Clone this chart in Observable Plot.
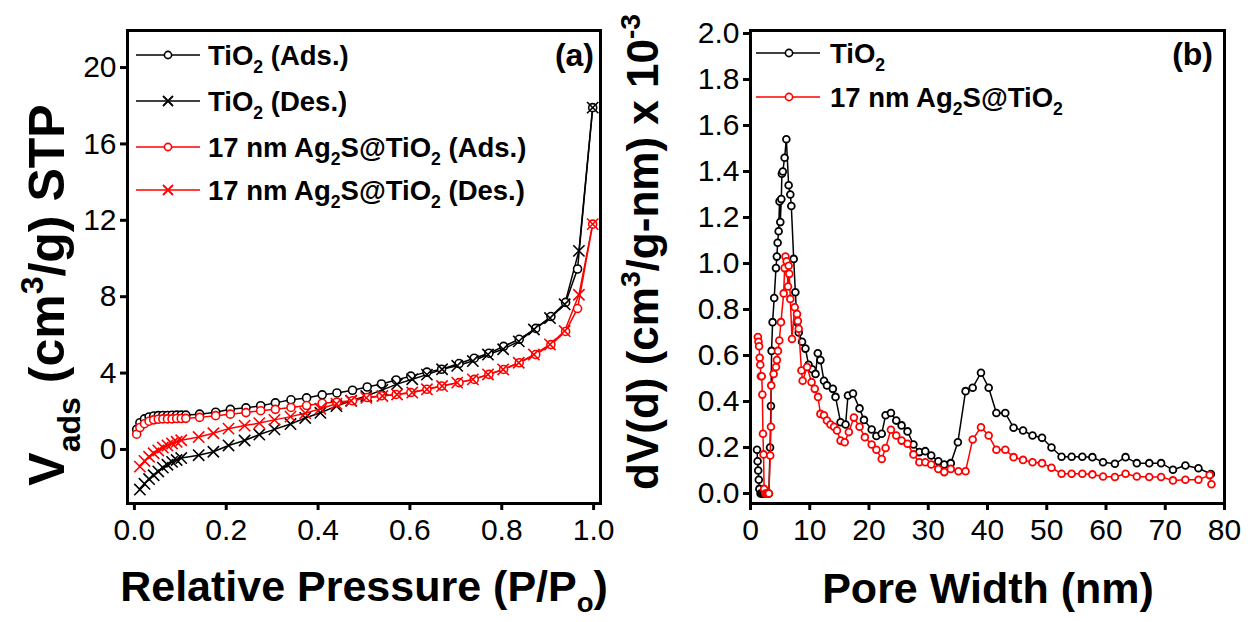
<!DOCTYPE html>
<html><head><meta charset="utf-8">
<script src="https://cdn.jsdelivr.net/npm/d3@7"></script>
<script src="https://cdn.jsdelivr.net/npm/@observablehq/plot@0.6"></script>
<style>
html,body{margin:0;padding:0;background:#fff;}
#wrap{position:relative;width:1248px;height:622px;overflow:hidden;background:#fff;}
#a{position:absolute;left:0;top:0;width:624px;height:622px;}
#b{position:absolute;left:624px;top:0;width:624px;height:622px;}
</style></head><body><div id="wrap"><div id="a"></div><div id="b"></div></div>
<script>
// ---------- Panel (a): N2 isotherms ----------
const xTicksA = [0, 0.2, 0.4, 0.6, 0.8, 1.0];
const yTicksA = [0, 4, 8, 12, 16, 20];
const p_ads = [0.005,0.012,0.022,0.032,0.042,0.052,0.062,0.072,0.082,0.092,0.102,0.112,0.142,0.177,0.209,0.243,0.275,0.307,0.341,0.375,0.409,0.441,0.475,0.507,0.538,0.570,0.602,0.637,0.669,0.707,0.740,0.772,0.804,0.838,0.874,0.907,0.939,0.965,0.998];
const tio2_ads = [1.05,1.4,1.6,1.7,1.75,1.77,1.78,1.78,1.79,1.8,1.8,1.8,1.85,1.95,2.1,2.18,2.29,2.44,2.6,2.7,2.86,2.96,3.1,3.27,3.43,3.64,3.84,4.05,4.2,4.5,4.78,5.04,5.4,5.77,6.34,6.96,7.7,9.45,17.9];
const ag_ads = [0.8,1.15,1.35,1.48,1.55,1.58,1.6,1.6,1.6,1.62,1.62,1.63,1.68,1.77,1.85,1.93,2.03,2.1,2.2,2.3,2.42,2.48,2.55,2.72,2.81,2.88,2.98,3.15,3.32,3.5,3.67,3.93,4.19,4.54,4.97,5.49,6.18,7.38,11.8];
const p_des = [0.012,0.022,0.032,0.042,0.052,0.062,0.072,0.082,0.092,0.102,0.14,0.172,0.205,0.24,0.272,0.305,0.34,0.372,0.405,0.44,0.472,0.505,0.54,0.572,0.605,0.637,0.67,0.703,0.737,0.77,0.803,0.837,0.87,0.905,0.937,0.968,0.998];
const tio2_des = [-2.1,-1.8,-1.55,-1.35,-1.15,-0.95,-0.8,-0.65,-0.55,-0.45,-0.3,-0.12,0.21,0.47,0.78,1.05,1.33,1.65,1.92,2.27,2.55,2.8,3.12,3.42,3.68,3.92,4.2,4.38,4.63,4.97,5.25,5.66,6.28,6.88,7.6,10.4,17.9];
const ag_des = [-0.9,-0.6,-0.38,-0.2,-0.05,0.1,0.21,0.31,0.4,0.48,0.65,0.85,1.09,1.25,1.38,1.55,1.72,1.9,2.13,2.39,2.55,2.7,2.8,2.88,2.98,3.15,3.32,3.5,3.67,3.93,4.19,4.54,4.97,5.5,6.2,8.1,11.8];

// ---------- Panel (b): pore size distribution ----------
const xTicksB = [0,10,20,30,40,50,60,70,80];
const yTicksB = [0,0.2,0.4,0.6,0.8,1.0,1.2,1.4,1.6,1.8,2.0];
const w_t = [1.1,1.2,1.3,1.4,1.5,1.7,1.9,2.1,2.3,2.5,2.7,2.9,3.1,3.3,3.45,3.56,3.73,4.0,4.3,4.45,4.58,4.75,4.9,5.03,5.2,5.3,5.45,5.76,6.05,6.44,6.72,6.89,7.29,7.57,7.85,8.14,8.7,9.27,9.8,10.4,10.97,11.36,11.8,12.4,12.9,13.9,14.35,15.2,16.05,16.45,17.3,18.4,19.15,20.45,21.25,22.15,22.8,23.7,24.6,25.5,26.5,27.5,28.5,29.5,30.5,31.7,32.7,33.8,35,36.3,37.5,38.9,40.2,41.5,43,44.4,46,47.6,49.2,50.8,52.5,54.2,56,57.7,59.5,61.5,63.3,65.2,67.3,69.3,71.3,73.4,75.6,77.7];
const v_t = [0.19,0.14,0.1,0.06,0.02,0,0,0,0,0,0,0,0,0.2,0.38,0.62,0.745,0.85,0.98,1.03,1.09,1.14,1.27,1.18,1.28,1.39,1.40,1.46,1.54,1.34,1.30,1.25,1.02,0.875,0.745,0.70,0.66,0.63,0.56,0.54,0.52,0.61,0.58,0.49,0.47,0.455,0.42,0.31,0.30,0.426,0.435,0.37,0.32,0.278,0.25,0.26,0.34,0.35,0.317,0.296,0.27,0.213,0.18,0.184,0.165,0.14,0.126,0.132,0.223,0.445,0.46,0.525,0.46,0.35,0.35,0.286,0.274,0.252,0.242,0.2,0.16,0.16,0.16,0.158,0.136,0.129,0.158,0.132,0.132,0.132,0.103,0.122,0.11,0.085];
const w_r = [1.25,1.35,1.45,1.55,1.65,1.75,1.9,2.0,2.1,2.2,2.3,2.5,2.7,2.9,3.1,3.33,3.45,3.5,3.9,4.3,4.46,4.63,4.86,5.14,5.6,5.76,5.9,6.1,6.33,6.44,6.55,6.72,7.0,7.46,7.85,8.0,8.14,8.6,8.8,9.55,10.3,10.85,11.4,11.8,12.4,12.9,13.5,14.1,14.6,15.2,15.9,16.6,17.45,18.4,19.3,20.45,21.25,22.15,22.8,23.7,24.6,25.5,26.5,27.5,28.5,29.5,30.5,31.7,32.7,33.8,35.1,36.3,37.5,38.9,40.2,41.5,43,44.4,46,47.6,49.2,50.8,52.5,54.2,56,57.7,59.5,61.5,63.3,65.2,67.3,69.3,71.3,73.4,75.6,77.5,77.8];
const v_r = [0.68,0.66,0.64,0.59,0.56,0.51,0.51,0.43,0.26,0.17,0.02,0,0,0,0,0.165,0.29,0.47,0.52,0.55,0.58,0.62,0.665,0.745,0.87,0.98,1.03,1.01,0.9,0.99,0.955,0.846,0.672,0.81,0.78,0.75,0.716,0.535,0.49,0.55,0.484,0.455,0.42,0.346,0.34,0.317,0.30,0.29,0.274,0.23,0.223,0.267,0.33,0.29,0.245,0.213,0.19,0.15,0.198,0.277,0.252,0.23,0.216,0.17,0.136,0.136,0.126,0.107,0.093,0.107,0.097,0.097,0.235,0.288,0.252,0.19,0.19,0.158,0.146,0.136,0.132,0.112,0.086,0.086,0.086,0.083,0.074,0.072,0.086,0.074,0.072,0.072,0.057,0.06,0.06,0.08,0.04];

const BLACK = "#000000", RED = "#ff0000";
const FONT = "'Liberation Sans', Arial, Helvetica, sans-serif";

const toRows = (xs, ys, series) => xs.map((x, i) => ({x, y: ys[i], series}));
const aTiAds = toRows(p_ads, tio2_ads, "TiO2 (Ads.)");
const aTiDes = toRows(p_des, tio2_des, "TiO2 (Des.)");
const aAgAds = toRows(p_ads, ag_ads, "Ag2S (Ads.)");
const aAgDes = toRows(p_des, ag_des, "Ag2S (Des.)");
const bTi = toRows(w_t, v_t, "TiO2");
const bAg = toRows(w_r, v_r, "Ag2S");

function rich(textSel, parts, size, subOff = 0.32) {
  let cur = 0;
  parts.forEach(([t, mode]) => {
    const off = mode === "sub" ? subOff * size : mode === "sup" ? -0.42 * size : 0;
    textSel.append("tspan")
      .attr("dy", off - cur)
      .attr("font-size", mode ? 0.64 * size : size)
      .text(t);
    cur = off;
  });
}

function legend(svg, rows, x1, x2, xs, xt, fs) {
  const g = d3.select(svg).append("g");
  rows.forEach(r => {
    g.append("line").attr("x1", x1).attr("x2", x2).attr("y1", r.y).attr("y2", r.y)
      .attr("stroke", r.color).attr("stroke-width", 1.6);
    if (r.sym === "circle") {
      g.append("circle").attr("cx", xs).attr("cy", r.y).attr("r", 3.6)
        .attr("fill", "white").attr("stroke", r.color).attr("stroke-width", 1.6);
    } else {
      const s = 5;
      g.append("path").attr("d", `M${xs - s},${r.y - s}L${xs + s},${r.y + s}M${xs - s},${r.y + s}L${xs + s},${r.y - s}`)
        .attr("stroke", r.color).attr("stroke-width", 1.8);
    }
    const t = g.append("text").attr("x", xt).attr("y", r.y + 9.5)
      .attr("text-anchor", "start")
      .attr("font-family", FONT).attr("font-weight", "bold").attr("fill", "black");
    rich(t, r.parts, fs);
  });
}

function title(svg, x, y, rot, parts, size, anchor = "middle", subOff = 0.32) {
  const t = d3.select(svg).append("text")
    .attr("transform", `translate(${x},${y}) rotate(${rot})`)
    .attr("text-anchor", anchor)
    .attr("font-family", FONT).attr("font-weight", "bold").attr("fill", "black");
  rich(t, parts, size, subOff);
}

const baseStyle = {fontFamily: FONT, color: "black", background: "white", overflow: "visible"};

// ---------- Chart (a) ----------
const chartA = Plot.plot({
  width: 624, height: 622,
  marginLeft: 127, marginRight: 24, marginTop: 30, marginBottom: 119,
  style: baseStyle,
  x: {domain: [-0.015, 1.015]},
  y: {domain: [-2.83, 21.94]},
  marks: [
    Plot.axisX({ticks: xTicksA, tickFormat: d3.format(".1f"), tickSize: 7, strokeWidth: 3, fontSize: 30, tickPadding: 8, label: null}),
    Plot.axisY({ticks: yTicksA, tickFormat: d3.format("d"), tickSize: 7, strokeWidth: 3, fontSize: 30, tickPadding: 4, label: null}),
    Plot.line(aTiAds, {x: "x", y: "y", stroke: BLACK, strokeWidth: 1.5}),
    Plot.line(aTiDes, {x: "x", y: "y", stroke: BLACK, strokeWidth: 1.5}),
    Plot.dot(aTiAds, {x: "x", y: "y", r: 4, stroke: BLACK, strokeWidth: 1.6, fill: "white"}),
    Plot.dot(aTiDes, {x: "x", y: "y", r: 5.2, symbol: "times", stroke: BLACK, strokeWidth: 1.6}),
    Plot.line(aAgAds, {x: "x", y: "y", stroke: RED, strokeWidth: 1.5}),
    Plot.line(aAgDes, {x: "x", y: "y", stroke: RED, strokeWidth: 1.5}),
    Plot.dot(aAgAds, {x: "x", y: "y", r: 4, stroke: RED, strokeWidth: 1.6, fill: "white"}),
    Plot.dot(aAgDes, {x: "x", y: "y", r: 5.2, symbol: "times", stroke: RED, strokeWidth: 1.6}),
    Plot.frame({stroke: "black", strokeWidth: 3})
  ]
});
document.getElementById("a").appendChild(chartA);

legend(chartA, [
  {y: 55, color: BLACK, sym: "circle", parts: [["TiO"], ["2", "sub"], [" (Ads.)"]]},
  {y: 101, color: BLACK, sym: "times", parts: [["TiO"], ["2", "sub"], [" (Des.)"]]},
  {y: 147, color: RED, sym: "circle", parts: [["17 nm Ag"], ["2", "sub"], ["S@TiO"], ["2", "sub"], [" (Ads.)"]]},
  {y: 190, color: RED, sym: "times", parts: [["17 nm Ag"], ["2", "sub"], ["S@TiO"], ["2", "sub"], [" (Des.)"]]}
], 136, 200, 168, 208, 27.5);
title(chartA, 594, 66, 0, [["(a)"]], 32, "end");
title(chartA, 364, 601, 0, [["Relative Pressure (P/P"], ["o", "sub"], [")"]], 43, "middle", 0.26);
title(chartA, 64, 295, -90, [["V"], ["ads", "sub"], [" (cm"], ["3", "sup"], ["/g) STP"]], 50);

// ---------- Chart (b) ----------
const chartB = Plot.plot({
  width: 624, height: 622,
  marginLeft: 126, marginRight: 24, marginTop: 30, marginBottom: 119,
  style: baseStyle,
  x: {domain: [0, 80]},
  y: {domain: [-0.0435, 2.013]},
  marks: [
    Plot.axisX({ticks: xTicksB, tickFormat: d3.format("d"), tickSize: 7, strokeWidth: 3, fontSize: 30, tickPadding: 8, label: null}),
    Plot.axisY({ticks: yTicksB, tickFormat: d3.format(".1f"), tickSize: 7, strokeWidth: 3, fontSize: 30, tickPadding: 4, label: null}),
    Plot.line(bTi, {x: "x", y: "y", stroke: BLACK, strokeWidth: 1.5}),
    Plot.dot(bTi, {x: "x", y: "y", r: 3.4, stroke: BLACK, strokeWidth: 1.8, fill: "white"}),
    Plot.line(bAg, {x: "x", y: "y", stroke: RED, strokeWidth: 1.5}),
    Plot.dot(bAg, {x: "x", y: "y", r: 3.4, stroke: RED, strokeWidth: 1.8, fill: "white"}),
    Plot.frame({stroke: "black", strokeWidth: 3})
  ]
});
document.getElementById("b").appendChild(chartB);

legend(chartB, [
  {y: 53, color: BLACK, sym: "circle", parts: [["TiO"], ["2", "sub"]]},
  {y: 97, color: RED, sym: "circle", parts: [["17 nm Ag"], ["2", "sub"], ["S@TiO"], ["2", "sub"]]}
], 132, 196, 165, 206, 27.5);
title(chartB, 589, 65, 0, [["(b)"]], 32, "end");
title(chartB, 364, 603, 0, [["Pore Width (nm)"]], 43);
title(chartB, 34, 252, -90, [["dV(d) (cm"], ["3", "sup"], ["/g-nm) x 10"], ["-3", "sup"]], 44);
</script></body></html>
